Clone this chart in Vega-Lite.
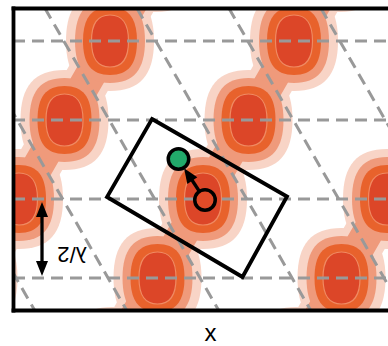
{
  "$schema": "https://vega.github.io/schema/vega-lite/v6.json",
  "width": 375,
  "height": 302,
  "autosize": {"type": "none"},
  "padding": {"left": 13, "top": 8, "right": 0, "bottom": 36},
  "background": "white",
  "config": {"view": {"stroke": null}},
  "resolve": {"axis": {"x": "independent", "y": "independent"}},
  "datasets": {
    "blobs": [
      {"chain": "A", "x": 155.5, "y": -38}, {"chain": "A", "x": 110, "y": 41}, {"chain": "A", "x": 64.5, "y": 120}, {"chain": "A", "x": 19, "y": 199}, {"chain": "A", "x": -26.5, "y": 278}, {"chain": "A", "x": -72, "y": 357},
      {"chain": "B", "x": 339.5, "y": -38}, {"chain": "B", "x": 294, "y": 41}, {"chain": "B", "x": 248.5, "y": 120}, {"chain": "B", "x": 203, "y": 199}, {"chain": "B", "x": 157.5, "y": 278}, {"chain": "B", "x": 112, "y": 357},
      {"chain": "C", "x": 523.5, "y": -38}, {"chain": "C", "x": 478, "y": 41}, {"chain": "C", "x": 432.5, "y": 120}, {"chain": "C", "x": 387, "y": 199}, {"chain": "C", "x": 341.5, "y": 278}, {"chain": "C", "x": 296, "y": 357}
    ],
    "grid": [
      {"id": "h1", "o": 0, "x": 13, "y": 41}, {"id": "h1", "o": 1, "x": 388, "y": 41},
      {"id": "h2", "o": 0, "x": 13, "y": 120}, {"id": "h2", "o": 1, "x": 388, "y": 120},
      {"id": "h3", "o": 0, "x": 13, "y": 199}, {"id": "h3", "o": 1, "x": 388, "y": 199},
      {"id": "h4", "o": 0, "x": 13, "y": 278}, {"id": "h4", "o": 1, "x": 388, "y": 278},
      {"id": "d1", "o": 0, "x": -139.2, "y": 8}, {"id": "d1", "o": 1, "x": 34.5, "y": 310},
      {"id": "d2", "o": 0, "x": -47.2, "y": 8}, {"id": "d2", "o": 1, "x": 126.5, "y": 310},
      {"id": "d3", "o": 0, "x": 44.8, "y": 8}, {"id": "d3", "o": 1, "x": 218.5, "y": 310},
      {"id": "d4", "o": 0, "x": 136.8, "y": 8}, {"id": "d4", "o": 1, "x": 310.5, "y": 310},
      {"id": "d5", "o": 0, "x": 228.8, "y": 8}, {"id": "d5", "o": 1, "x": 402.5, "y": 310},
      {"id": "d6", "o": 0, "x": 320.8, "y": 8}, {"id": "d6", "o": 1, "x": 494.5, "y": 310}
    ],
    "box": [
      {"i": 0, "x": 152, "y": 119}, {"i": 1, "x": 287, "y": 196.5}, {"i": 2, "x": 242.5, "y": 277}, {"i": 3, "x": 107, "y": 197}
    ],
    "shafts": [
      {"id": "move", "o": 0, "x": 205, "y": 200}, {"id": "move", "o": 1, "x": 190, "y": 177},
      {"id": "lam", "o": 0, "x": 42, "y": 209}, {"id": "lam", "o": 1, "x": 42, "y": 269}
    ],
    "heads": [
      {"x": 42, "y": 209.5, "a": 0},
      {"x": 42, "y": 268.5, "a": 180},
      {"x": 188.2, "y": 174.4, "a": 326.6}
    ],
    "dots": [
      {"kind": "start", "x": 205, "y": 200, "c": "#e04b28"},
      {"kind": "end", "x": 178.5, "y": 159, "c": "#22a96a"}
    ],
    "labels": [
      {"x": 72, "y": 254, "t": "λ/2"}
    ]
  },
  "encoding": {
    "x": {"field": "x", "type": "quantitative", "scale": {"domain": [13, 388], "nice": false, "zero": false}, "axis": null},
    "y": {"field": "y", "type": "quantitative", "scale": {"domain": [8, 310], "reverse": true, "nice": false, "zero": false}, "axis": null}
  },
  "layer": [
    {
      "data": {"name": "blobs"},
      "mark": {"type": "line", "clip": true, "color": "#f8d4c6", "strokeWidth": 46, "strokeCap": "round", "strokeJoin": "round"},
      "encoding": {"detail": {"field": "chain"}, "order": {"field": "y", "type": "quantitative"}}
    },
    {
      "data": {"name": "blobs"},
      "mark": {"type": "point", "clip": true, "filled": true, "opacity": 1, "color": "#f8d4c6", "strokeWidth": 0, "size": 10000,
        "shape": "M0,-1C0.598,-1 0.88,-0.68 0.88,0C0.88,0.68 0.598,1 0,1C-0.598,1 -0.88,0.68 -0.88,0C-0.88,-0.68 -0.598,-1 0,-1Z"}
    },
    {
      "data": {"name": "blobs"},
      "mark": {"type": "line", "clip": true, "color": "#ef9a7b", "strokeWidth": 31, "strokeCap": "round", "strokeJoin": "round"},
      "encoding": {"detail": {"field": "chain"}, "order": {"field": "y", "type": "quantitative"}}
    },
    {
      "data": {"name": "blobs"},
      "mark": {"type": "point", "clip": true, "filled": true, "opacity": 1, "color": "#ef9a7b", "strokeWidth": 0, "size": 7056,
        "shape": "M0,-1C0.567,-1 0.833,-0.68 0.833,0C0.833,0.68 0.567,1 0,1C-0.567,1 -0.833,0.68 -0.833,0C-0.833,-0.68 -0.567,-1 0,-1Z"}
    },
    {
      "data": {"name": "blobs"},
      "mark": {"type": "point", "clip": true, "filled": true, "opacity": 1, "color": "#e8622c", "strokeWidth": 0, "size": 4624,
        "shape": "M0,-1C0.54,-1 0.794,-0.68 0.794,0C0.794,0.68 0.54,1 0,1C-0.54,1 -0.794,0.68 -0.794,0C-0.794,-0.68 -0.54,-1 0,-1Z"}
    },
    {
      "data": {"name": "blobs"},
      "mark": {"type": "point", "clip": true, "filled": true, "opacity": 1, "fill": "#dc4628", "stroke": "#f08a62", "strokeWidth": 1.2, "size": 2704,
        "shape": "M0,-1C0.484,-1 0.712,-0.68 0.712,0C0.712,0.68 0.484,1 0,1C-0.484,1 -0.712,0.68 -0.712,0C-0.712,-0.68 -0.484,-1 0,-1Z"}
    },
    {
      "data": {"name": "grid"},
      "mark": {"type": "line", "clip": true, "color": "#999999", "strokeWidth": 3, "strokeDash": [12, 7]},
      "encoding": {
        "x": {"field": "x", "type": "quantitative", "scale": {"domain": [13, 388], "nice": false, "zero": false},
          "axis": {"orient": "top", "domain": true, "domainColor": "black", "domainWidth": 3.8, "domainCap": "square", "ticks": false, "labels": false, "grid": false, "title": null, "zindex": 1}},
        "detail": {"field": "id"},
        "order": {"field": "o", "type": "quantitative"}
      }
    },
    {
      "data": {"name": "box"},
      "mark": {"type": "line", "interpolate": "linear-closed", "color": "black", "strokeWidth": 3.8, "strokeJoin": "miter"},
      "encoding": {
        "x": {"field": "x", "type": "quantitative", "scale": {"domain": [13, 388], "nice": false, "zero": false},
          "axis": {"orient": "bottom", "domain": true, "domainColor": "black", "domainWidth": 3.8, "domainCap": "square", "ticks": false, "labels": false, "grid": false,
            "title": "x", "titleFont": "Liberation Sans", "titleFontSize": 24, "titleFontWeight": "normal", "titleColor": "black",
            "titleX": 197, "titleY": 30, "titleBaseline": "alphabetic", "titleAlign": "center", "zindex": 1}},
        "y": {"field": "y", "type": "quantitative", "scale": {"domain": [8, 310], "reverse": true, "nice": false, "zero": false},
          "axis": {"orient": "left", "domain": true, "domainColor": "black", "domainWidth": 3.8, "domainCap": "square", "ticks": false, "labels": false, "grid": false, "title": null, "zindex": 1}},
        "order": {"field": "i", "type": "quantitative"}
      }
    },
    {
      "data": {"name": "shafts"},
      "mark": {"type": "line", "color": "black", "strokeWidth": 3.3},
      "encoding": {"detail": {"field": "id"}, "order": {"field": "o", "type": "quantitative"}}
    },
    {
      "data": {"name": "heads"},
      "mark": {"type": "point", "filled": true, "opacity": 1, "color": "black", "strokeWidth": 0, "size": 225,
        "shape": "M0,-1L0.8,1L-0.8,1Z"},
      "encoding": {"angle": {"field": "a", "type": "quantitative", "scale": null}}
    },
    {
      "data": {"name": "dots"},
      "mark": {"type": "point", "shape": "circle", "filled": true, "opacity": 1, "stroke": "black", "strokeWidth": 3.5, "size": 420},
      "encoding": {"fill": {"field": "c", "type": "nominal", "scale": null}}
    },
    {
      "data": {"name": "labels"},
      "mark": {"type": "text", "angle": 180, "font": "Liberation Sans", "fontSize": 22, "align": "center", "baseline": "middle", "color": "black"},
      "encoding": {"text": {"field": "t"}}
    }
  ]
}
